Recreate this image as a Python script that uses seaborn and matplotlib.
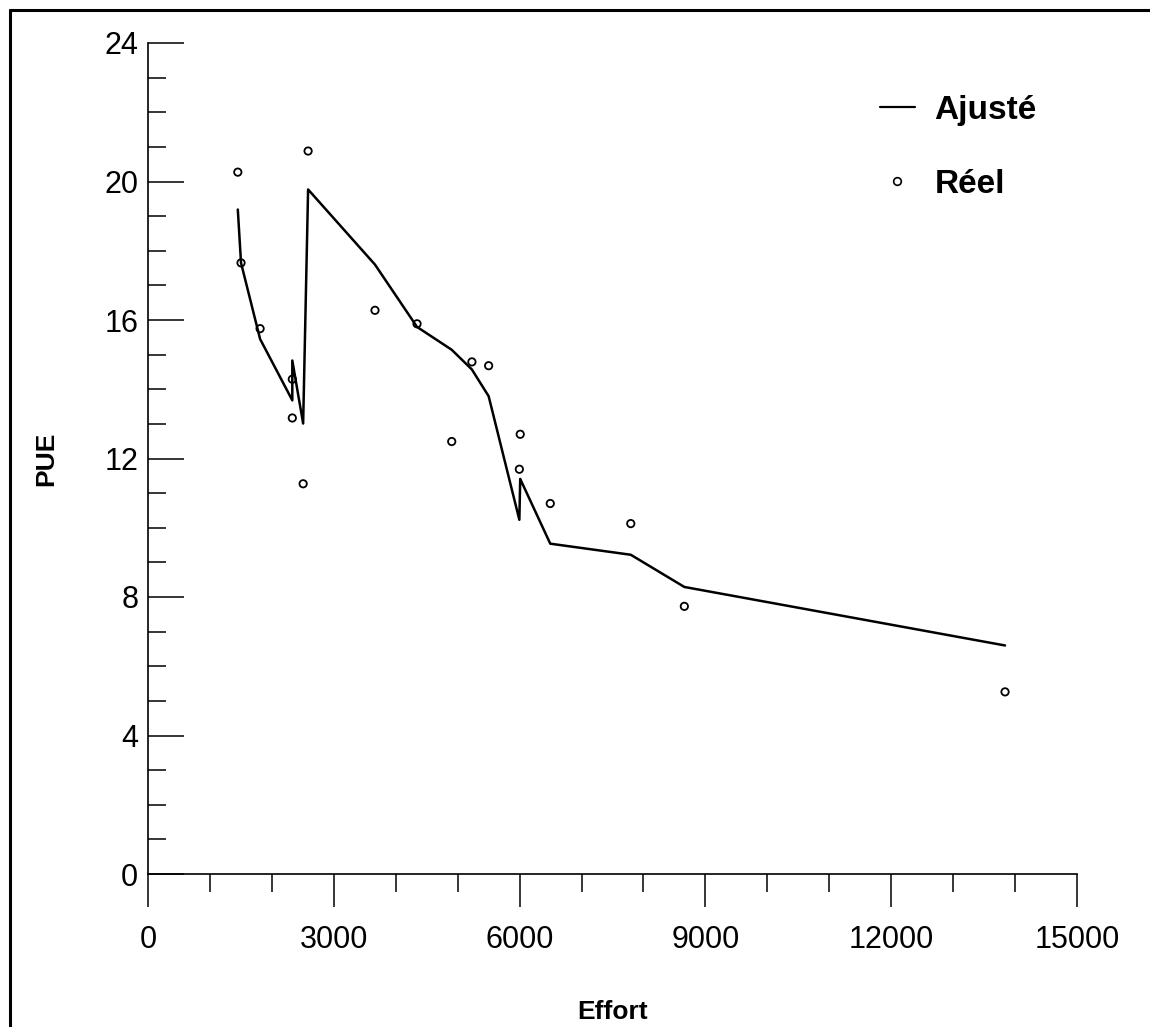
import matplotlib
matplotlib.use("Agg")
import matplotlib.pyplot as plt
from matplotlib.ticker import MultipleLocator
from matplotlib.lines import Line2D
import seaborn as sns
import pandas as pd

# Data (ordered as the fitted line is drawn)
effort = [1450, 1502, 1810, 2330, 2330, 2505, 2585, 3665, 4344, 4904,
          5230, 5500, 5996, 6010, 6495, 7795, 8660, 13838]
reel = [20.27, 17.65, 15.75, 14.29, 13.17, 11.27, 20.88, 16.28, 15.89, 12.49,
        14.79, 14.68, 11.69, 12.70, 10.70, 10.12, 7.73, 5.26]
ajuste = [19.19, 17.65, 15.45, 13.68, 14.83, 13.01, 19.77, 17.60, 15.80, 15.14,
          14.57, 13.80, 10.23, 11.41, 9.54, 9.22, 8.29, 6.60]

x_ticks = [0, 3000, 6000, 9000, 12000, 15000]
y_ticks = [0, 4, 8, 12, 16, 20, 24]
x_label = "Effort"
y_label = "PUE"
legend_labels = ["Ajusté", "Réel"]

df = pd.DataFrame({"Effort": effort, "Reel": reel, "Ajuste": ajuste})

sns.set_style("ticks")
plt.rcParams["font.family"] = ["Liberation Sans", "DejaVu Sans"]
plt.rcParams["text.color"] = "black"
plt.rcParams["axes.labelcolor"] = "black"
plt.rcParams["xtick.color"] = "black"
plt.rcParams["ytick.color"] = "black"

fig = plt.figure(figsize=(11.5, 10.27), dpi=100)
ax = fig.add_axes([148 / 1150, 1 - 874 / 1027, 929 / 1150, (874 - 43) / 1027])

sns.lineplot(data=df, x="Effort", y="Ajuste", sort=False, estimator=None,
             color="black", linewidth=1.8, ax=ax)
sns.scatterplot(data=df, x="Effort", y="Reel", marker="o", s=28,
                facecolors="none", edgecolor="black", linewidth=1.3, ax=ax)

ax.set_xlim(0, 15000)
ax.set_ylim(0, 24)
ax.set_xticks(x_ticks)
ax.set_yticks(y_ticks)
ax.xaxis.set_minor_locator(MultipleLocator(1000))
ax.yaxis.set_minor_locator(MultipleLocator(1))

for s in ["top", "right"]:
    ax.spines[s].set_visible(False)
for s in ["left", "bottom"]:
    ax.spines[s].set_linewidth(1.2)
    ax.spines[s].set_color("black")

ax.tick_params(axis="y", which="major", direction="in", length=26, width=1.1,
               labelsize=22, pad=7, colors="black")
ax.tick_params(axis="y", which="minor", direction="in", length=13, width=1.1)
ax.tick_params(axis="x", which="major", direction="out", length=24, width=1.1,
               labelsize=22, pad=13, colors="black")
ax.tick_params(axis="x", which="minor", direction="out", length=13, width=1.1)

ax.set_xlabel(x_label, fontsize=19, fontweight="bold", labelpad=32, color="black")
ax.set_ylabel(y_label, fontsize=19, fontweight="bold", labelpad=33, color="black")

handles = [Line2D([0], [0], color="black", linewidth=1.6),
           Line2D([0], [0], color="black", marker="o", linestyle="none",
                  markerfacecolor="none", markersize=5.5, markeredgewidth=1.2)]
leg = ax.legend(handles, legend_labels, loc="upper left",
                bbox_to_anchor=(863 / 1150, 1 - 78 / 1027),
                bbox_transform=fig.transFigure, frameon=False, borderpad=0,
                handlelength=1.05, handletextpad=0.6, labelspacing=1.3,
                prop={"size": 24, "weight": "bold"})
for t in leg.get_texts():
    t.set_color("black")

# figure border
fig.add_artist(Line2D([10 / 1150, 10 / 1150], [0, 1 - 10 / 1027],
                      transform=fig.transFigure, color="black", linewidth=2.2))
fig.add_artist(Line2D([10 / 1150, 1], [1 - 10 / 1027, 1 - 10 / 1027],
                      transform=fig.transFigure, color="black", linewidth=2.2))

fig.savefig("out.png", dpi=100)
